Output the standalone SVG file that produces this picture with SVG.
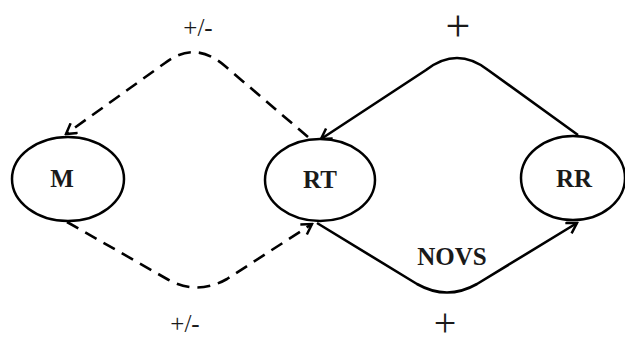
<svg xmlns="http://www.w3.org/2000/svg" width="625" height="342" viewBox="0 0 625 342">
<style>
.node ellipse{fill:#fff;stroke:#000;stroke-width:2.5}
.node text{font-family:"Liberation Serif",serif;font-weight:bold;font-size:25px;text-anchor:middle;fill:#1a1a1a}
.c{fill:none;stroke:#000;stroke-width:2.6}
.d{stroke-dasharray:13 8}
.lbl{font-family:"Liberation Serif",serif;text-anchor:middle;fill:#1a1a1a}
</style>
<defs>
<marker id="a" viewBox="-12 -7 14 14" refX="0" refY="0" markerWidth="14" markerHeight="14" markerUnits="userSpaceOnUse" orient="auto">
<path d="M-10,-6 L0,0 L-10,6" fill="none" stroke="#000" stroke-width="2.5"/>
</marker>
</defs>
<g id="connectors">
<path class="c d" d="M308,137 L225,66 Q195,40 165,63 L66,134" marker-end="url(#a)"/>
<path class="c d" d="M67,222 L167,279 Q197,296 227,279 L312,224" marker-end="url(#a)"/>
<path class="c" d="M578,135 L488,70 Q457,46 426,70 L321,139" marker-end="url(#a)"/>
<path class="c" d="M317,223 L417,284 Q447,301 477,284 L577,223" marker-end="url(#a)"/>
</g>
<g id="M" class="node"><ellipse cx="68" cy="179" rx="56" ry="42"/><text x="62" y="187">M</text></g>
<g id="RT" class="node"><ellipse cx="320" cy="180" rx="55" ry="41"/><text x="320" y="188">RT</text></g>
<g id="RR" class="node"><ellipse cx="573" cy="178" rx="52" ry="42"/><text x="574" y="187">RR</text></g>
<g id="labels">
<text class="lbl" x="198" y="36" font-size="25">+/-</text>
<text class="lbl" x="185" y="332" font-size="25">+/-</text>
<text class="lbl" x="458" y="41" font-size="44">+</text>
<text class="lbl" x="445" y="336" font-size="40">+</text>
<text class="lbl" x="452" y="265" font-size="25" font-weight="bold">NOVS</text>
</g>
</svg>
